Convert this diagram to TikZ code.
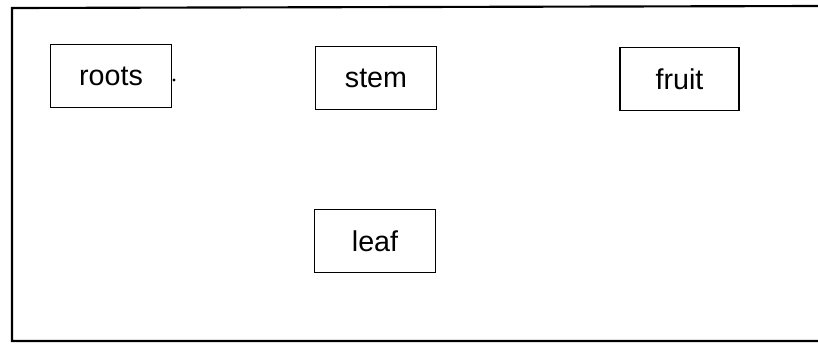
\documentclass[tikz,border=0pt]{standalone}
\usepackage{fontspec}
\setmainfont{Liberation Sans}
\usetikzlibrary{positioning}

\tikzset{
  part/.style={draw, rectangle, line width=1.1pt, minimum width=91pt, minimum height=47pt,
    inner sep=0pt, font=\fontsize{21.5}{24}\selectfont},
}

\begin{document}
\begin{tikzpicture}[x=0.75pt, y=-0.75pt]
  \useasboundingbox (0,0) rectangle (818,343);
  % frame
  \coordinate (tl) at (12,8);
  \coordinate (tr) at (818,6);
  \coordinate (bl) at (12,341);
  \coordinate (br) at (818,341);
  \draw[line width=1.6pt] (tr) -- (tl) -- (bl) -- (br);

  \node[part] (roots) at (111,76) {roots};
  \node[part] (stem) at (376,78) {stem};
  \node[part, minimum width=89pt] (fruit) at (679.5,79) {fruit};
  \node[part] (leaf) at (375,241) {leaf};

  \fill (174,80) circle (1.3pt);
\end{tikzpicture}
\end{document}
